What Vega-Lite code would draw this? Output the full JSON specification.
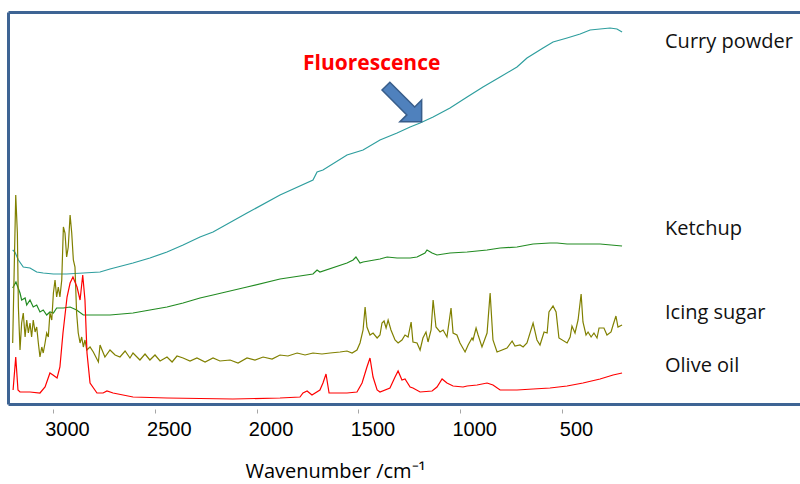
{
  "$schema": "https://vega.github.io/schema/vega-lite/v6.json",
  "width": 792,
  "height": 392,
  "autosize": {"type": "none"},
  "padding": {"left": 8, "top": 12, "right": 0, "bottom": 80},
  "config": {"view": {"stroke": null}},
  "resolve": {"axis": {"x": "independent"}},
  "datasets": {
    "spectra": [
      {"s":"Curry powder","w":3198,"i":154},{"s":"Curry powder","w":3187,"i":152},{"s":"Curry powder","w":3170,"i":144},{"s":"Curry powder","w":3146,"i":137},{"s":"Curry powder","w":3113,"i":136},{"s":"Curry powder","w":3080,"i":132},{"s":"Curry powder","w":3048,"i":131},{"s":"Curry powder","w":2998,"i":130},{"s":"Curry powder","w":2933,"i":130},{"s":"Curry powder","w":2851,"i":131},{"s":"Curry powder","w":2769,"i":132},{"s":"Curry powder","w":2720,"i":135},{"s":"Curry powder","w":2607,"i":141},{"s":"Curry powder","w":2524,"i":146},{"s":"Curry powder","w":2440,"i":152},{"s":"Curry powder","w":2361,"i":159},{"s":"Curry powder","w":2278,"i":167},{"s":"Curry powder","w":2214,"i":172},{"s":"Curry powder","w":2047,"i":191},{"s":"Curry powder","w":1885,"i":209},{"s":"Curry powder","w":1723,"i":224},{"s":"Curry powder","w":1703,"i":232},{"s":"Curry powder","w":1674,"i":234},{"s":"Curry powder","w":1556,"i":249},{"s":"Curry powder","w":1477,"i":254},{"s":"Curry powder","w":1394,"i":264},{"s":"Curry powder","w":1310,"i":271},{"s":"Curry powder","w":1246,"i":277},{"s":"Curry powder","w":1197,"i":281},{"s":"Curry powder","w":1133,"i":287},{"s":"Curry powder","w":1050,"i":296},{"s":"Curry powder","w":966,"i":307},{"s":"Curry powder","w":888,"i":317},{"s":"Curry powder","w":804,"i":327},{"s":"Curry powder","w":721,"i":337},{"s":"Curry powder","w":672,"i":346},{"s":"Curry powder","w":593,"i":356},{"s":"Curry powder","w":544,"i":362},{"s":"Curry powder","w":475,"i":366},{"s":"Curry powder","w":411,"i":370},{"s":"Curry powder","w":362,"i":374},{"s":"Curry powder","w":313,"i":375},{"s":"Curry powder","w":264,"i":376},{"s":"Curry powder","w":230,"i":375},{"s":"Curry powder","w":205,"i":372},

      {"s":"Ketchup","w":3198,"i":116},{"s":"Ketchup","w":3182,"i":122},{"s":"Ketchup","w":3162,"i":111},{"s":"Ketchup","w":3154,"i":104},{"s":"Ketchup","w":3137,"i":106},{"s":"Ketchup","w":3129,"i":99},{"s":"Ketchup","w":3113,"i":104},{"s":"Ketchup","w":3097,"i":97},{"s":"Ketchup","w":3080,"i":99},{"s":"Ketchup","w":3064,"i":92},{"s":"Ketchup","w":3048,"i":94},{"s":"Ketchup","w":3031,"i":89},{"s":"Ketchup","w":3015,"i":92},{"s":"Ketchup","w":2998,"i":91},{"s":"Ketchup","w":2982,"i":96},{"s":"Ketchup","w":2949,"i":96},{"s":"Ketchup","w":2916,"i":97},{"s":"Ketchup","w":2884,"i":94},{"s":"Ketchup","w":2851,"i":89},{"s":"Ketchup","w":2818,"i":89},{"s":"Ketchup","w":2769,"i":89},{"s":"Ketchup","w":2720,"i":89},{"s":"Ketchup","w":2607,"i":91},{"s":"Ketchup","w":2524,"i":94},{"s":"Ketchup","w":2440,"i":97},{"s":"Ketchup","w":2361,"i":101},{"s":"Ketchup","w":2278,"i":106},{"s":"Ketchup","w":2214,"i":109},{"s":"Ketchup","w":2047,"i":117},{"s":"Ketchup","w":1885,"i":125},{"s":"Ketchup","w":1723,"i":130},{"s":"Ketchup","w":1703,"i":134},{"s":"Ketchup","w":1689,"i":132},{"s":"Ketchup","w":1556,"i":141},{"s":"Ketchup","w":1526,"i":144},{"s":"Ketchup","w":1512,"i":147},{"s":"Ketchup","w":1492,"i":141},{"s":"Ketchup","w":1477,"i":142},{"s":"Ketchup","w":1394,"i":145},{"s":"Ketchup","w":1359,"i":147},{"s":"Ketchup","w":1310,"i":146},{"s":"Ketchup","w":1246,"i":146},{"s":"Ketchup","w":1212,"i":147},{"s":"Ketchup","w":1173,"i":151},{"s":"Ketchup","w":1163,"i":154},{"s":"Ketchup","w":1138,"i":151},{"s":"Ketchup","w":1114,"i":149},{"s":"Ketchup","w":1050,"i":151},{"s":"Ketchup","w":966,"i":152},{"s":"Ketchup","w":868,"i":154},{"s":"Ketchup","w":804,"i":156},{"s":"Ketchup","w":721,"i":157},{"s":"Ketchup","w":642,"i":160},{"s":"Ketchup","w":559,"i":161},{"s":"Ketchup","w":524,"i":161},{"s":"Ketchup","w":475,"i":160},{"s":"Ketchup","w":397,"i":160},{"s":"Ketchup","w":313,"i":160},{"s":"Ketchup","w":205,"i":158},

      {"s":"Icing sugar","w":3198,"i":61},{"s":"Icing sugar","w":3183,"i":209},{"s":"Icing sugar","w":3175,"i":171},{"s":"Icing sugar","w":3170,"i":97},{"s":"Icing sugar","w":3162,"i":54},{"s":"Icing sugar","w":3154,"i":81},{"s":"Icing sugar","w":3146,"i":91},{"s":"Icing sugar","w":3137,"i":67},{"s":"Icing sugar","w":3129,"i":84},{"s":"Icing sugar","w":3121,"i":71},{"s":"Icing sugar","w":3113,"i":81},{"s":"Icing sugar","w":3105,"i":67},{"s":"Icing sugar","w":3097,"i":84},{"s":"Icing sugar","w":3088,"i":72},{"s":"Icing sugar","w":3080,"i":77},{"s":"Icing sugar","w":3072,"i":61},{"s":"Icing sugar","w":3064,"i":47},{"s":"Icing sugar","w":3055,"i":57},{"s":"Icing sugar","w":3048,"i":51},{"s":"Icing sugar","w":3039,"i":61},{"s":"Icing sugar","w":3031,"i":71},{"s":"Icing sugar","w":3023,"i":67},{"s":"Icing sugar","w":3015,"i":91},{"s":"Icing sugar","w":3006,"i":84},{"s":"Icing sugar","w":2998,"i":111},{"s":"Icing sugar","w":2990,"i":124},{"s":"Icing sugar","w":2982,"i":107},{"s":"Icing sugar","w":2974,"i":117},{"s":"Icing sugar","w":2966,"i":107},{"s":"Icing sugar","w":2957,"i":124},{"s":"Icing sugar","w":2949,"i":177},{"s":"Icing sugar","w":2941,"i":171},{"s":"Icing sugar","w":2933,"i":147},{"s":"Icing sugar","w":2925,"i":157},{"s":"Icing sugar","w":2916,"i":189},{"s":"Icing sugar","w":2908,"i":171},{"s":"Icing sugar","w":2900,"i":144},{"s":"Icing sugar","w":2892,"i":137},{"s":"Icing sugar","w":2884,"i":91},{"s":"Icing sugar","w":2876,"i":71},{"s":"Icing sugar","w":2867,"i":61},{"s":"Icing sugar","w":2859,"i":67},{"s":"Icing sugar","w":2851,"i":57},{"s":"Icing sugar","w":2843,"i":64},{"s":"Icing sugar","w":2834,"i":54},{"s":"Icing sugar","w":2818,"i":57},{"s":"Icing sugar","w":2802,"i":52},{"s":"Icing sugar","w":2777,"i":42},{"s":"Icing sugar","w":2769,"i":59},{"s":"Icing sugar","w":2753,"i":51},{"s":"Icing sugar","w":2745,"i":47},{"s":"Icing sugar","w":2720,"i":54},{"s":"Icing sugar","w":2695,"i":49},{"s":"Icing sugar","w":2671,"i":47},{"s":"Icing sugar","w":2646,"i":53},{"s":"Icing sugar","w":2622,"i":46},{"s":"Icing sugar","w":2607,"i":51},{"s":"Icing sugar","w":2573,"i":44},{"s":"Icing sugar","w":2548,"i":50},{"s":"Icing sugar","w":2524,"i":44},{"s":"Icing sugar","w":2499,"i":49},{"s":"Icing sugar","w":2474,"i":43},{"s":"Icing sugar","w":2440,"i":47},{"s":"Icing sugar","w":2415,"i":42},{"s":"Icing sugar","w":2391,"i":48},{"s":"Icing sugar","w":2361,"i":46},{"s":"Icing sugar","w":2327,"i":43},{"s":"Icing sugar","w":2293,"i":46},{"s":"Icing sugar","w":2253,"i":42},{"s":"Icing sugar","w":2214,"i":46},{"s":"Icing sugar","w":2180,"i":43},{"s":"Icing sugar","w":2130,"i":44},{"s":"Icing sugar","w":2091,"i":41},{"s":"Icing sugar","w":2047,"i":46},{"s":"Icing sugar","w":2008,"i":44},{"s":"Icing sugar","w":1968,"i":47},{"s":"Icing sugar","w":1924,"i":45},{"s":"Icing sugar","w":1885,"i":49},{"s":"Icing sugar","w":1846,"i":48},{"s":"Icing sugar","w":1801,"i":51},{"s":"Icing sugar","w":1762,"i":49},{"s":"Icing sugar","w":1723,"i":51},{"s":"Icing sugar","w":1679,"i":50},{"s":"Icing sugar","w":1639,"i":51},{"s":"Icing sugar","w":1590,"i":52},{"s":"Icing sugar","w":1556,"i":53},{"s":"Icing sugar","w":1531,"i":51},{"s":"Icing sugar","w":1507,"i":54},{"s":"Icing sugar","w":1492,"i":61},{"s":"Icing sugar","w":1477,"i":74},{"s":"Icing sugar","w":1467,"i":97},{"s":"Icing sugar","w":1458,"i":77},{"s":"Icing sugar","w":1443,"i":69},{"s":"Icing sugar","w":1428,"i":71},{"s":"Icing sugar","w":1408,"i":66},{"s":"Icing sugar","w":1394,"i":69},{"s":"Icing sugar","w":1384,"i":81},{"s":"Icing sugar","w":1374,"i":83},{"s":"Icing sugar","w":1364,"i":76},{"s":"Icing sugar","w":1354,"i":84},{"s":"Icing sugar","w":1340,"i":74},{"s":"Icing sugar","w":1320,"i":64},{"s":"Icing sugar","w":1305,"i":61},{"s":"Icing sugar","w":1286,"i":64},{"s":"Icing sugar","w":1271,"i":69},{"s":"Icing sugar","w":1256,"i":67},{"s":"Icing sugar","w":1241,"i":82},{"s":"Icing sugar","w":1232,"i":62},{"s":"Icing sugar","w":1212,"i":61},{"s":"Icing sugar","w":1197,"i":54},{"s":"Icing sugar","w":1183,"i":66},{"s":"Icing sugar","w":1168,"i":72},{"s":"Icing sugar","w":1158,"i":62},{"s":"Icing sugar","w":1143,"i":74},{"s":"Icing sugar","w":1133,"i":104},{"s":"Icing sugar","w":1119,"i":77},{"s":"Icing sugar","w":1099,"i":72},{"s":"Icing sugar","w":1084,"i":74},{"s":"Icing sugar","w":1065,"i":67},{"s":"Icing sugar","w":1045,"i":96},{"s":"Icing sugar","w":1035,"i":71},{"s":"Icing sugar","w":1016,"i":69},{"s":"Icing sugar","w":1001,"i":61},{"s":"Icing sugar","w":976,"i":52},{"s":"Icing sugar","w":961,"i":59},{"s":"Icing sugar","w":942,"i":66},{"s":"Icing sugar","w":937,"i":64},{"s":"Icing sugar","w":922,"i":76},{"s":"Icing sugar","w":912,"i":69},{"s":"Icing sugar","w":893,"i":57},{"s":"Icing sugar","w":868,"i":71},{"s":"Icing sugar","w":853,"i":111},{"s":"Icing sugar","w":839,"i":64},{"s":"Icing sugar","w":819,"i":52},{"s":"Icing sugar","w":770,"i":56},{"s":"Icing sugar","w":745,"i":63},{"s":"Icing sugar","w":731,"i":58},{"s":"Icing sugar","w":706,"i":59},{"s":"Icing sugar","w":691,"i":57},{"s":"Icing sugar","w":672,"i":61},{"s":"Icing sugar","w":642,"i":81},{"s":"Icing sugar","w":623,"i":64},{"s":"Icing sugar","w":608,"i":59},{"s":"Icing sugar","w":588,"i":72},{"s":"Icing sugar","w":573,"i":71},{"s":"Icing sugar","w":564,"i":92},{"s":"Icing sugar","w":544,"i":98},{"s":"Icing sugar","w":529,"i":92},{"s":"Icing sugar","w":515,"i":66},{"s":"Icing sugar","w":475,"i":61},{"s":"Icing sugar","w":460,"i":67},{"s":"Icing sugar","w":451,"i":78},{"s":"Icing sugar","w":436,"i":71},{"s":"Icing sugar","w":421,"i":84},{"s":"Icing sugar","w":406,"i":110},{"s":"Icing sugar","w":397,"i":82},{"s":"Icing sugar","w":382,"i":69},{"s":"Icing sugar","w":372,"i":72},{"s":"Icing sugar","w":357,"i":67},{"s":"Icing sugar","w":343,"i":71},{"s":"Icing sugar","w":328,"i":66},{"s":"Icing sugar","w":318,"i":76},{"s":"Icing sugar","w":294,"i":76},{"s":"Icing sugar","w":279,"i":69},{"s":"Icing sugar","w":259,"i":72},{"s":"Icing sugar","w":249,"i":79},{"s":"Icing sugar","w":235,"i":88},{"s":"Icing sugar","w":225,"i":77},{"s":"Icing sugar","w":205,"i":79},

      {"s":"Olive oil","w":3196,"i":14},{"s":"Olive oil","w":3183,"i":47},{"s":"Olive oil","w":3172,"i":14},{"s":"Olive oil","w":3162,"i":12},{"s":"Olive oil","w":3113,"i":12},{"s":"Olive oil","w":3064,"i":11},{"s":"Olive oil","w":3039,"i":17},{"s":"Olive oil","w":3015,"i":31},{"s":"Olive oil","w":3000,"i":29},{"s":"Olive oil","w":2980,"i":26},{"s":"Olive oil","w":2966,"i":37},{"s":"Olive oil","w":2951,"i":71},{"s":"Olive oil","w":2931,"i":107},{"s":"Olive oil","w":2916,"i":121},{"s":"Olive oil","w":2902,"i":127},{"s":"Olive oil","w":2882,"i":117},{"s":"Olive oil","w":2867,"i":104},{"s":"Olive oil","w":2854,"i":129},{"s":"Olive oil","w":2843,"i":104},{"s":"Olive oil","w":2833,"i":51},{"s":"Olive oil","w":2818,"i":21},{"s":"Olive oil","w":2784,"i":11},{"s":"Olive oil","w":2754,"i":11},{"s":"Olive oil","w":2735,"i":13},{"s":"Olive oil","w":2705,"i":11},{"s":"Olive oil","w":2607,"i":7},{"s":"Olive oil","w":2440,"i":6},{"s":"Olive oil","w":2116,"i":5},{"s":"Olive oil","w":1885,"i":6},{"s":"Olive oil","w":1787,"i":7},{"s":"Olive oil","w":1772,"i":11},{"s":"Olive oil","w":1752,"i":13},{"s":"Olive oil","w":1728,"i":9},{"s":"Olive oil","w":1689,"i":14},{"s":"Olive oil","w":1674,"i":21},{"s":"Olive oil","w":1659,"i":30},{"s":"Olive oil","w":1644,"i":11},{"s":"Olive oil","w":1556,"i":11},{"s":"Olive oil","w":1507,"i":12},{"s":"Olive oil","w":1482,"i":21},{"s":"Olive oil","w":1458,"i":37},{"s":"Olive oil","w":1443,"i":46},{"s":"Olive oil","w":1428,"i":27},{"s":"Olive oil","w":1408,"i":14},{"s":"Olive oil","w":1394,"i":12},{"s":"Olive oil","w":1345,"i":16},{"s":"Olive oil","w":1320,"i":27},{"s":"Olive oil","w":1305,"i":33},{"s":"Olive oil","w":1286,"i":24},{"s":"Olive oil","w":1271,"i":25},{"s":"Olive oil","w":1246,"i":17},{"s":"Olive oil","w":1232,"i":16},{"s":"Olive oil","w":1197,"i":12},{"s":"Olive oil","w":1138,"i":13},{"s":"Olive oil","w":1114,"i":17},{"s":"Olive oil","w":1089,"i":25},{"s":"Olive oil","w":1065,"i":21},{"s":"Olive oil","w":1035,"i":18},{"s":"Olive oil","w":986,"i":17},{"s":"Olive oil","w":966,"i":18},{"s":"Olive oil","w":917,"i":19},{"s":"Olive oil","w":868,"i":21},{"s":"Olive oil","w":839,"i":19},{"s":"Olive oil","w":804,"i":14},{"s":"Olive oil","w":721,"i":14},{"s":"Olive oil","w":642,"i":15},{"s":"Olive oil","w":559,"i":16},{"s":"Olive oil","w":475,"i":18},{"s":"Olive oil","w":397,"i":21},{"s":"Olive oil","w":313,"i":25},{"s":"Olive oil","w":249,"i":29},{"s":"Olive oil","w":205,"i":31}
    ],
    "labels": [
      {"name":"Curry powder","w":-6,"i":356},
      {"name":"Ketchup","w":-6,"i":169},
      {"name":"Icing sugar","w":-6,"i":85},
      {"name":"Olive oil","w":-6,"i":32}
    ],
    "note": [{"text":"Fluorescence","w":1772,"i":334}],
    "arrow": [{"w":1277,"i":300}]
  },
  "layer": [
    {
      "data": {"name": "spectra"},
      "mark": {"type": "line", "strokeWidth": 1.2, "interpolate": "linear"},
      "encoding": {
        "x": {
          "field": "w", "type": "quantitative",
          "scale": {"domain": [-669, 3221], "reverse": true, "nice": false, "zero": false},
          "axis": {
            "orient": "bottom",
            "title": "Wavenumber /cm⁻¹",
            "values": [3000, 2500, 2000, 1500, 1000, 500],
            "format": "d",
            "grid": false,
            "domain": true, "domainColor": "#3E6494", "domainWidth": 3,
            "ticks": true, "tickColor": "#A6A6A6", "tickSize": 9, "tickWidth": 1, "tickDash": [0, 5, 4],
            "labelFont": "Liberation Sans", "labelFontSize": 20, "labelColor": "#000000", "labelPadding": 6, "labelOffset": 14,
            "titleFont": "Open Sans", "titleFontSize": 20, "titleFontWeight": "normal", "titleColor": "#000000",
            "titleX": 327, "titleY": 73, "titleAlign": "center", "titleBaseline": "alphabetic"
          }
        },
        "y": {
          "field": "i", "type": "quantitative",
          "scale": {"domain": [0, 392], "nice": false, "zero": false},
          "axis": {"orient": "left", "title": null, "labels": false, "ticks": false, "grid": false, "domain": true, "domainColor": "#3E6494", "domainWidth": 3}
        },
        "color": {
          "field": "s", "type": "nominal",
          "scale": {"domain": ["Curry powder", "Ketchup", "Icing sugar", "Olive oil"], "range": ["#2E9E9E", "#228B22", "#808000", "#FF0000"]},
          "legend": null
        },
        "detail": {"field": "s"}
      }
    },
    {
      "data": {"name": "labels"},
      "mark": {"type": "text", "align": "left", "baseline": "alphabetic", "font": "Open Sans", "fontSize": 20, "color": "#111111"},
      "encoding": {
        "x": {"field": "w", "type": "quantitative", "axis": {"orient": "top", "title": null, "labels": false, "ticks": false, "grid": false, "domain": true, "domainColor": "#3E6494", "domainWidth": 3}},
        "y": {"field": "i", "type": "quantitative"},
        "text": {"field": "name"}
      }
    },
    {
      "data": {"name": "note"},
      "mark": {"type": "text", "align": "left", "baseline": "alphabetic", "font": "Open Sans", "fontSize": 21, "fontWeight": "bold", "color": "#FF0000"},
      "encoding": {
        "x": {"field": "w", "type": "quantitative", "axis": null},
        "y": {"field": "i", "type": "quantitative"},
        "text": {"field": "text"}
      }
    },
    {
      "data": {"name": "arrow"},
      "mark": {"type": "point", "shape": "M-1,-0.22L0.39,-0.22L0.39,-0.61L1,0L0.39,0.61L0.39,0.22L-1,0.22Z", "angle": 45, "size": 2550, "filled": true, "fill": "#4F81BD", "stroke": "#385D8A", "strokeWidth": 1.5, "opacity": 1},
      "encoding": {
        "x": {"field": "w", "type": "quantitative", "axis": null},
        "y": {"field": "i", "type": "quantitative"}
      }
    }
  ]
}
